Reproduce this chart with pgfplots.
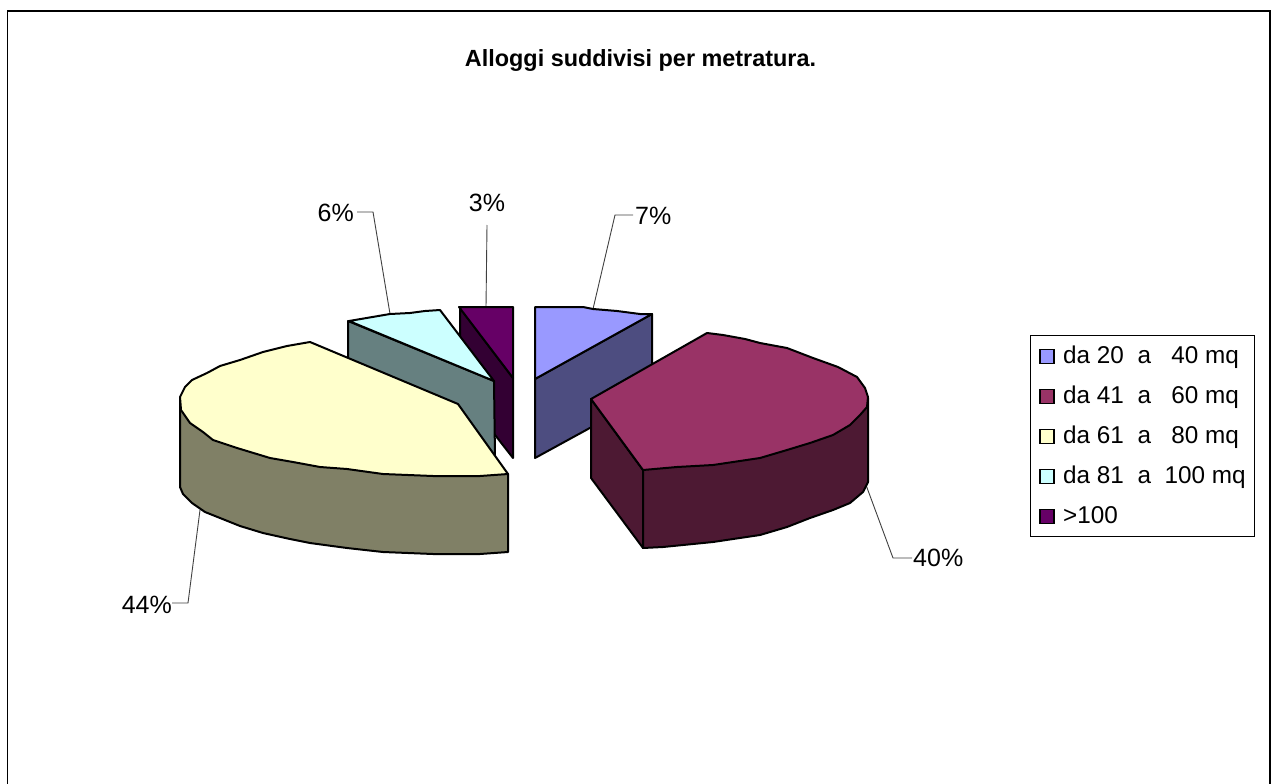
\documentclass[border=0pt]{standalone}
\usepackage{fontspec}
\setmainfont{Liberation Sans}
\usepackage{pgfplots}
\pgfplotsset{compat=1.18}
\definecolor{cBlue}{HTML}{9999FF}\definecolor{cBlueS}{HTML}{4D4D80}
\definecolor{cMar}{HTML}{993366}\definecolor{cMarS}{HTML}{4D1933}
\definecolor{cYel}{HTML}{FFFFCC}\definecolor{cYelS}{HTML}{808066}
\definecolor{cCya}{HTML}{CCFFFF}\definecolor{cCyaS}{HTML}{668080}
\definecolor{cPur}{HTML}{660066}\definecolor{cPurS}{HTML}{330033}
\newcommand{\lfont}{\fontsize{24.3}{28}\selectfont}
\begin{document}
\begin{tikzpicture}
\begin{axis}[
  width=1271pt,height=784pt,scale only axis,
  xmin=0,xmax=1271,ymin=0,ymax=784,y dir=reverse,
  hide axis,clip=true,
  face/.style={draw=black,line width=2pt,line join=round,forget plot},
  lead/.style={draw=black!75,line width=0.9pt,forget plot},
  legend image code/.code={\draw[#1,line width=1.8pt,draw=black] (0pt,-8pt) rectangle (14pt,6pt);\path (22.5pt,0pt);},
  legend style={at={(axis cs:1030,334.5)},anchor=north west,draw=black,line width=0.8pt,
    font=\lfont,inner xsep=9pt,inner ysep=6.5pt,
    /tikz/every even column/.style={column sep=0pt},
    /tikz/row sep=12pt,
    nodes={inner sep=0pt,minimum height=28pt}},
  legend cell align=left,
]
% page extent
\addplot[draw=none,forget plot] coordinates {(0,0)(1271,0)(1271,784)(0,784)};
% frame (no bottom edge)
\addplot[draw=black,line width=1.2pt,forget plot] coordinates {(7.5,784)(7.5,11)(1270,11)(1270,784)};
% leaders
\addplot[lead] coordinates {(593,309)(615,215)(633,215)};
\addplot[lead] coordinates {(357,212)(373,212)(390,314)};
\addplot[lead] coordinates {(487,225)(486,307)};
\addplot[lead] coordinates {(866,485)(893,558)(912,558)};
\addplot[lead] coordinates {(200,510)(188,603)(172,603)};
% >100
\addplot[face,fill=cPurS] coordinates {(460,308)(513,378)(513,458)(460,390)} --cycle;
\addplot[face,fill=cPur] coordinates {(459,307)(513,307)(513,378)} --cycle;
% 81-100
\addplot[face,fill=cCyaS] coordinates {(348,321)(494,381)(495,458)(348,400)} --cycle;
\addplot[face,fill=cCya] coordinates {(349,321)(390,314)(410,313)(425,311)(440,310)(494,381)} --cycle;
% 20-40
\addplot[face,fill=cBlueS] coordinates {(535,379)(652,314)(652,394)(535,458)} --cycle;
\addplot[face,fill=cBlue] coordinates {(535,307)(583,307)(593,309)(617,311)(640,314)(652,314)(535,379)} --cycle;
% 41-60
\addplot[face,fill=cMarS] coordinates {(591,399)(643,470)(643,548)(591,478)} --cycle;
\addplot[face,fill=cMarS] coordinates {(643,470)(868,398)(868,482)(863,492)(850,503)(833,510)(810,518)(787,527)(760,535)(713,542)(663,547)(643,548)} --cycle;
\addplot[face,fill=cMar] coordinates {(591,399)(707,333)(723,335)(745,339)(760,343)(787,348)(813,358)(838,367)(857,377)(865,388)(868,397)(867,407)(860,415)(850,425)(833,435)(810,443)(787,450)(760,458)(713,465)(677,467)(643,470)} --cycle;
% 61-80
\addplot[face,fill=cYelS] coordinates {(180,398)(180,487)(183,494)(192,503)(205,512)(220,518)(240,526)(263,533)(290,539)(310,543)(347,548)(383,552)(433,554)(480,554)(508,552)(508,474)} --cycle;
\addplot[face,fill=cYel] coordinates {(310,342)(287,346)(263,352)(240,360)(220,366)(207,373)(192,380)(185,387)(180,397)(181,410)(190,423)(203,432)(213,440)(237,448)(270,458)(293,462)(320,467)(347,469)(383,474)(433,476)(480,476)(508,474)(458,404)} --cycle;
% legend
\addlegendimage{fill=cBlue}\addlegendentry{da 20\ \ a\ \ \ 40 mq}
\addlegendimage{fill=cMar}\addlegendentry{da 41\ \ a\ \ \ 60 mq}
\addlegendimage{fill=cYel}\addlegendentry{da 61\ \ a\ \ \ 80 mq}
\addlegendimage{fill=cCya}\addlegendentry{da 81\ \ a\ \ 100 mq}
\addlegendimage{fill=cPur}\addlegendentry{>100}
% texts
\node[font=\fontsize{23.4}{26}\selectfont\bfseries] at (axis cs:640.5,61) {Alloggi suddivisi per metratura.};
\node[font=\fontsize{25}{28}\selectfont,anchor=west,inner sep=0pt] at (axis cs:635,216) {7\%};
\node[font=\fontsize{25}{28}\selectfont,anchor=east,inner sep=0pt] at (axis cs:354,213) {6\%};
\node[font=\fontsize{25}{28}\selectfont,inner sep=0pt] at (axis cs:487,203) {3\%};
\node[font=\fontsize{25}{28}\selectfont,anchor=west,inner sep=0pt] at (axis cs:913,558) {40\%};
\node[font=\fontsize{25}{28}\selectfont,anchor=east,inner sep=0pt] at (axis cs:172,605) {44\%};
\end{axis}
\end{tikzpicture}
\end{document}
